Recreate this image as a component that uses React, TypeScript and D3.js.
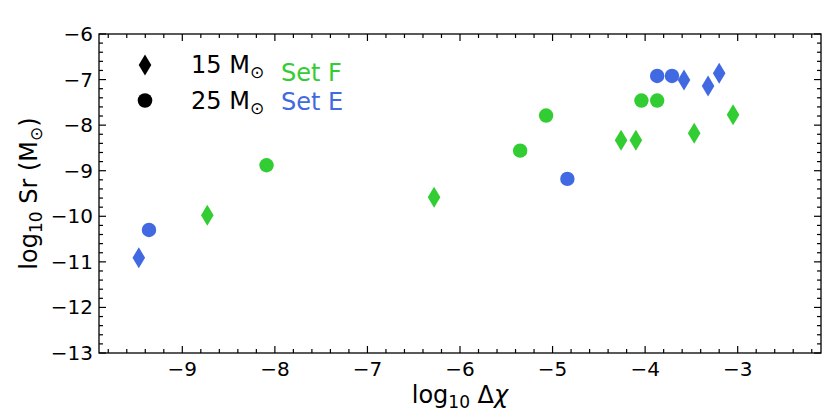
// Sr yield vs log10 Δχ scatter (Set E / Set F, 15 and 25 Msun)
import React, { useEffect, useRef } from 'react';
import * as d3 from 'd3';

type Pt = [number, number];

// Set F (green)
const setF15: Pt[] = [[-8.73, -9.98], [-6.28, -9.58], [-4.26, -8.33], [-4.10, -8.33], [-3.47, -8.18], [-3.05, -7.77]];
const setF25: Pt[] = [[-8.09, -8.88], [-5.35, -8.56], [-5.07, -7.79], [-4.04, -7.46], [-3.87, -7.46]];
// Set E (blue)
const setE15: Pt[] = [[-9.47, -10.91], [-3.58, -7.01], [-3.32, -7.14], [-3.20, -6.86]];
const setE25: Pt[] = [[-9.36, -10.30], [-4.84, -9.18], [-3.87, -6.92], [-3.71, -6.92]];

const xTicks = [-9, -8, -7, -6, -5, -4, -3];
const yTicks = [-13, -12, -11, -10, -9, -8, -7, -6];
const xDomain: Pt = [-9.9, -2.1];
const yDomain: Pt = [-13, -6];

const GREEN = '#32cd32';
const BLUE = '#4169e1';
const FONT = '"DejaVu Sans", sans-serif';

const diamondPath = (h: number) => {
  const w = h * 0.6;
  return `M0,${-h / 2}L${w / 2},0L0,${h / 2}L${-w / 2},0Z`;
};

const App: React.FC = () => {
  const ref = useRef<SVGSVGElement>(null);

  useEffect(() => {
    document.body.style.margin = '0';
    if (!ref.current) return;
    const svg = d3.select(ref.current);
    svg.selectAll('*').remove();

    const width = 830;
    const height = 415;
    const margin = { top: 34, right: 9, bottom: 62, left: 99 };
    const pw = width - margin.left - margin.right;
    const ph = height - margin.top - margin.bottom;

    svg.attr('width', width).attr('height', height).style('font-family', FONT);

    const g = svg.append('g').attr('transform', `translate(${margin.left},${margin.top})`);

    const x = d3.scaleLinear().domain(xDomain).range([0, pw]);
    const y = d3.scaleLinear().domain(yDomain).range([ph, 0]);

    const xMinor = d3.range(-9.8, -2.1, 0.2).map((v) => +v.toFixed(1)).filter((v) => !xTicks.includes(v));
    const yMinor = d3.range(-12.8, -6.0, 0.2).map((v) => +v.toFixed(1)).filter((v) => !yTicks.includes(v));

    const tickStroke = 1.2;
    const maj = 7;
    const mnr = 4;

    // ticks, pointing inward on all four sides
    const ticks = g.append('g').attr('stroke', '#000').attr('stroke-width', tickStroke);
    const addX = (vals: number[], len: number) => {
      vals.forEach((v) => {
        ticks.append('line').attr('x1', x(v)).attr('x2', x(v)).attr('y1', ph).attr('y2', ph - len);
        ticks.append('line').attr('x1', x(v)).attr('x2', x(v)).attr('y1', 0).attr('y2', len);
      });
    };
    const addY = (vals: number[], len: number) => {
      vals.forEach((v) => {
        ticks.append('line').attr('y1', y(v)).attr('y2', y(v)).attr('x1', 0).attr('x2', len);
        ticks.append('line').attr('y1', y(v)).attr('y2', y(v)).attr('x1', pw).attr('x2', pw - len);
      });
    };
    addX(xTicks, maj);
    addX(xMinor, mnr);
    addY(yTicks, maj);
    addY(yMinor, mnr);

    // tick labels
    g.append('g')
      .selectAll('text')
      .data(xTicks)
      .join('text')
      .attr('x', (d) => x(d))
      .attr('y', ph + 23)
      .attr('text-anchor', 'middle')
      .style('font-size', '20px')
      .text((d) => d3.format('')(d).replace('-', '\u2212'));

    g.append('g')
      .selectAll('text')
      .data(yTicks)
      .join('text')
      .attr('x', -6)
      .attr('y', (d) => y(d) + 7)
      .attr('text-anchor', 'end')
      .style('font-size', '20px')
      .text((d) => String(d).replace('-', '\u2212'));

    // frame
    g.append('rect')
      .attr('width', pw)
      .attr('height', ph)
      .attr('fill', 'none')
      .attr('stroke', '#000')
      .attr('stroke-width', 1.3);

    // points
    const drawCircles = (data: Pt[], color: string) => {
      g.append('g')
        .selectAll('circle')
        .data(data)
        .join('circle')
        .attr('cx', (d) => x(d[0]))
        .attr('cy', (d) => y(d[1]))
        .attr('r', 7.2)
        .attr('fill', color);
    };
    const drawDiamonds = (data: Pt[], color: string) => {
      g.append('g')
        .selectAll('path')
        .data(data)
        .join('path')
        .attr('transform', (d) => `translate(${x(d[0])},${y(d[1])})`)
        .attr('d', diamondPath(21))
        .attr('fill', color);
    };
    drawDiamonds(setF15, GREEN);
    drawCircles(setF25, GREEN);
    drawDiamonds(setE15, BLUE);
    drawCircles(setE25, BLUE);

    // legend
    svg.append('path').attr('transform', 'translate(145,65)').attr('d', diamondPath(21)).attr('fill', '#000');
    svg.append('circle').attr('cx', 145).attr('cy', 100.5).attr('r', 7.3).attr('fill', '#000');

    const mass = (label: string, yy: number) => {
      const t = svg.append('text').attr('x', 191).attr('y', yy).style('font-size', '24px').attr('fill', '#000');
      t.append('tspan').text(`${label} M`);
      t.append('tspan').attr('dy', 5).style('font-size', '17px').text('\u2299');
    };
    mass('15', 73);
    mass('25', 109);
    svg.append('text').attr('x', 281).attr('y', 81).style('font-size', '24px').attr('fill', GREEN).text('Set F');
    svg.append('text').attr('x', 281).attr('y', 110).style('font-size', '24px').attr('fill', BLUE).text('Set E');

    // axis labels
    const xl = svg.append('text')
      .attr('x', margin.left + pw / 2)
      .attr('y', 403)
      .attr('text-anchor', 'middle')
      .style('font-size', '24px');
    xl.append('tspan').text('log');
    xl.append('tspan').attr('dy', 5).style('font-size', '17px').text('10');
    xl.append('tspan').attr('dy', -5).text(' \u0394');
    xl.append('tspan').style('font-style', 'italic').text('\u03c7');

    const yl = svg.append('text')
      .attr('transform', `translate(37,${margin.top + ph / 2}) rotate(-90)`)
      .attr('text-anchor', 'middle')
      .style('font-size', '24px');
    yl.append('tspan').text('log');
    yl.append('tspan').attr('dy', 5).style('font-size', '17px').text('10');
    yl.append('tspan').attr('dy', -5).text(' Sr (M');
    yl.append('tspan').attr('dy', 5).style('font-size', '17px').text('\u2299');
    yl.append('tspan').attr('dy', -5).text(')');
  }, []);

  return (
    <div>
      <svg ref={ref}></svg>
    </div>
  );
};

export default App;
